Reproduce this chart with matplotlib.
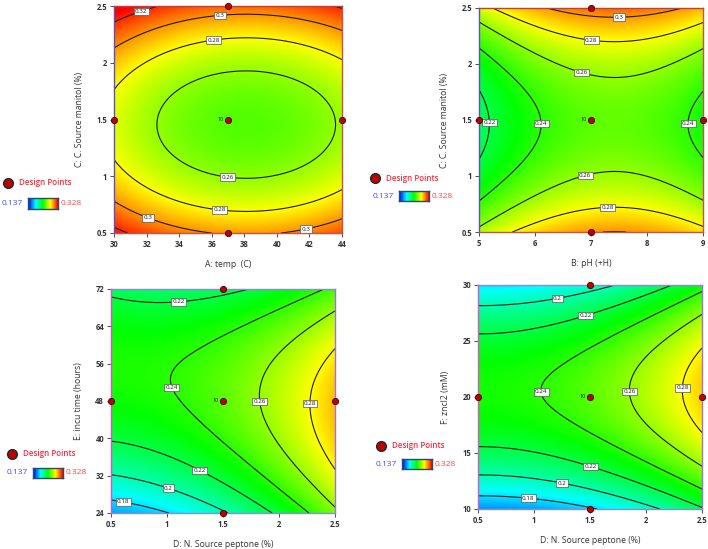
import numpy as np
import matplotlib
matplotlib.use('Agg')
import matplotlib.pyplot as plt
from matplotlib.colors import LinearSegmentedColormap

plt.rcParams['font.family'] = ['Open Sans', 'DejaVu Sans']

# response range shown in the legend bar
zmin = 0.137
zmax = 0.328

# fitted quadratic in coded units u, v (-1..1):
# b0 + b1*u + b2*v + b11*u^2 + b22*v^2 + b12*u*v
coef_temp_c = [0.2476 + 0.0202 * 0.16 ** 2 + 0.0554 * 0.045 ** 2, -2 * 0.0202 * 0.16, 2 * 0.0554 * 0.045, 0.0202, 0.0554, 0.0]
coef_ph_c = [0.2505 - 0.0244 * 0.21 ** 2 + 0.054 * 0.04 ** 2, 2 * 0.0244 * 0.21, 2 * 0.054 * 0.04, -0.0244, 0.054, 0.0]
coef_pep_time = [0.249, 0.029, 0.009, 0.014, -0.042, -0.015]
coef_pep_zn = [0.2488, 0.0265, 0.00756, 0.01345, -0.063, 0.0]

xrange_list = [(30, 44), (5, 9), (0.5, 2.5), (0.5, 2.5)]
yrange_list = [(0.5, 2.5), (0.5, 2.5), (24, 72), (10, 30)]
xticks_list = [[30, 32, 34, 36, 38, 40, 42, 44], [5, 6, 7, 8, 9], [0.5, 1, 1.5, 2, 2.5], [0.5, 1, 1.5, 2, 2.5]]
yticks_list = [[0.5, 1, 1.5, 2, 2.5], [0.5, 1, 1.5, 2, 2.5], [24, 32, 40, 48, 56, 64, 72], [10, 15, 20, 25, 30]]
xlabels = ['A: temp  (C)', 'B: pH (+H)', 'D: N. Source peptone (%)', 'D: N. Source peptone (%)']
ylabels = ['C: C. Source manitol (%)', 'C: C. Source manitol (%)', 'E: incu time (hours)', 'F: zncl2 (mM)']

levels_list = [[0.26, 0.28, 0.30, 0.32],
               [0.22, 0.24, 0.26, 0.28, 0.30],
               [0.18, 0.2, 0.22, 0.24, 0.26, 0.28],
               [0.18, 0.2, 0.22, 0.24, 0.26, 0.28]]

label_pos = [
    [(31.7, 2.44), (36.5, 2.44), (36.1, 2.22), (37, 1.0), (36.5, 0.72), (32, 0.6), (41.7, 0.59)],
    [(7.5, 2.43), (7.0, 2.2), (6.85, 1.95), (5.2, 1.48), (6.15, 1.47), (8.75, 1.47), (6.9, 1.0), (7.3, 0.72)],
    [(1.1, 69.5), (1.0, 50.5), (1.85, 48), (2.3, 47.5), (1.28, 32.5), (1.0, 28.5), (0.6, 25)],
    [(1.2, 29.2), (1.45, 27.6), (1.1, 20.5), (1.85, 20.5), (2.35, 20.8), (1.5, 13.7), (1.25, 12.3), (0.95, 11.0)],
]

# design points: axial points on the edges + centre point (10 runs)
design_x = [[37, 37, 30, 44, 37], [7, 7, 5, 9, 7], [1.5, 1.5, 0.5, 2.5, 1.5], [1.5, 1.5, 0.5, 2.5, 1.5]]
design_y = [[2.5, 0.5, 1.5, 1.5, 1.5], [2.5, 0.5, 1.5, 1.5, 1.5], [72, 24, 48, 48, 48], [30, 10, 20, 20, 20]]

coefs = [coef_temp_c, coef_ph_c, coef_pep_time, coef_pep_zn]

cmap = LinearSegmentedColormap.from_list(
    'de', ['#0000ff', '#00ffff', '#00ff00', '#ffff00', '#ff0000'])

W, H = 708, 549
axes_px = [(114, 6, 342, 233), (479, 8, 703, 232), (111, 289, 335, 513), (478, 285, 702, 509)]
# legend blocks: marker (x,y), colorbar box (x0, y0, x1, y1)
legend_px = [((8, 183), (28, 198, 58, 209)),
             ((375, 178), (399, 191, 429, 201)),
             ((12, 454), (33, 468, 63, 478)),
             ((381, 446), (402, 459, 432, 469))]


def fx(px):
    return px / W


def fy(py):
    return 1 - py / H


def surface(c, x, y, xr, yr):
    u = (x - (xr[0] + xr[1]) / 2) / ((xr[1] - xr[0]) / 2)
    v = (y - (yr[0] + yr[1]) / 2) / ((yr[1] - yr[0]) / 2)
    return c[0] + c[1] * u + c[2] * v + c[3] * u ** 2 + c[4] * v ** 2 + c[5] * u * v


fig = plt.figure(figsize=(W / 100, H / 100), dpi=100)

for i in range(4):
    x0, y0, x1, y1 = axes_px[i]
    ax = fig.add_axes([fx(x0), fy(y1), fx(x1 - x0), (y1 - y0) / H])
    xr = xrange_list[i]
    yr = yrange_list[i]
    xs = np.linspace(xr[0], xr[1], 300)
    ys = np.linspace(yr[0], yr[1], 300)
    X, Y = np.meshgrid(xs, ys)
    Z = surface(coefs[i], X, Y, xr, yr)

    ax.imshow(Z, extent=[xr[0], xr[1], yr[0], yr[1]], origin='lower', aspect='auto',
              cmap=cmap, vmin=zmin, vmax=zmax, interpolation='bilinear')
    cs = ax.contour(X, Y, Z, levels=levels_list[i], colors='#1a1a1a', linewidths=0.8)
    txts = ax.clabel(cs, fmt='%g', fontsize=4.5, inline=False, manual=label_pos[i])
    for t in txts:
        t.set_rotation(0)
        t.set_zorder(4)
        t.set_bbox(dict(boxstyle='square,pad=0.2', fc='white', ec='#555555', lw=0.5))

    ax.plot(design_x[i], design_y[i], 'o', color='#c00000', mec='#400000', mew=0.6,
            ms=4.5, clip_on=False, zorder=5)
    ax.text(design_x[i][4] - (xr[1] - xr[0]) * 0.02, design_y[i][4], '10', fontsize=4,
            ha='right', va='center', color='#222222')

    ax.set_xlim(xr)
    ax.set_ylim(yr)
    ax.set_xticks(xticks_list[i])
    ax.set_yticks(yticks_list[i])
    ax.set_xticklabels(['%g' % t for t in xticks_list[i]])
    ax.set_yticklabels(['%g' % t for t in yticks_list[i]])
    ax.tick_params(labelsize=5.5, length=3, width=0.6, colors='#333333', pad=2)
    for lab in ax.get_xticklabels() + ax.get_yticklabels():
        lab.set_fontweight('bold')
    ax.set_xlabel(xlabels[i], fontsize=6.2, color='#333333', labelpad=8)
    ax.set_ylabel(ylabels[i], fontsize=6.2, color='#333333', labelpad=9)

    if i < 2:
        ax.spines['left'].set_color('#5a50c8')
        ax.spines['top'].set_color('#c83c3c')
        ax.spines['right'].set_color('#c85050')
        ax.spines['bottom'].set_color('#c85050')
    else:
        ax.spines['left'].set_color('#e050c8')
        ax.spines['top'].set_color('#8c8cd2')
        ax.spines['right'].set_color('#a070e0')
        ax.spines['bottom'].set_color('#8c8cd2')
    for s in ax.spines.values():
        s.set_linewidth(1.0)

    # legend block on the left of each panel
    (mx, my), (bx0, by0, bx1, by1) = legend_px[i]
    fig.add_artist(plt.Line2D([fx(mx)], [fy(my)], marker='o', color='#c00000', mec='#103030',
                              mew=1.0, ms=7, transform=fig.transFigure))
    fig.text(fx(mx + 11), fy(my), 'Design Points', fontsize=5.8, color='#ff2a3c',
             ha='left', va='center', fontweight='semibold')
    cax = fig.add_axes([fx(bx0), fy(by1), fx(bx1 - bx0), (by1 - by0) / H])
    cax.imshow(np.linspace(zmin, zmax, 100).reshape(1, -1), aspect='auto', cmap=cmap,
               vmin=zmin, vmax=zmax)
    cax.set_xticks([])
    cax.set_yticks([])
    for s in cax.spines.values():
        s.set_color('#2a4a6a')
        s.set_linewidth(1.0)
    fig.text(fx(bx0 - 5), fy((by0 + by1) / 2), '0.137', fontsize=6, color='#4a4aff',
             ha='right', va='center')
    fig.text(fx(bx1 + 3), fy((by0 + by1) / 2), '0.328', fontsize=6, color='#ff4a4a',
             ha='left', va='center')

fig.savefig('out.png', dpi=100)
